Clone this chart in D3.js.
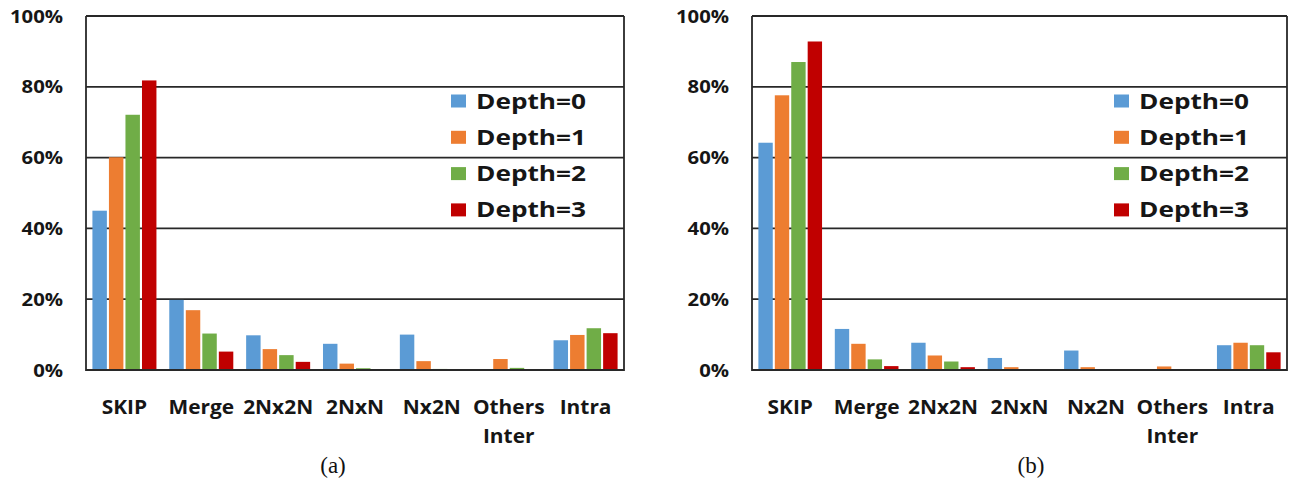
<!DOCTYPE html>
<html>
<head>
<meta charset="utf-8">
<script src="https://cdn.jsdelivr.net/npm/d3@7"></script>
<style>
  html, body { margin: 0; padding: 0; background: #fff; }
  svg { display: block; }
</style>
</head>
<body>
<svg id="chart" width="1290" height="482"></svg>
<script>
// Share of coding modes per CU depth (percent)
const categories = ["SKIP", "Merge", "2Nx2N", "2NxN", "Nx2N", "Others Inter", "Intra"];
const seriesNames = ["Depth=0", "Depth=1", "Depth=2", "Depth=3"];
const yTicks = [0, 20, 40, 60, 80, 100];
const panelLabels = ["(a)", "(b)"];

// Panel (a)
const depth0A = [45.0, 19.8, 9.8, 7.4, 10.0, 0.0, 8.4];
const depth1A = [60.1, 16.9, 5.9, 1.8, 2.5, 3.1, 9.9];
const depth2A = [72.1, 10.3, 4.2, 0.5, 0.3, 0.6, 11.8];
const depth3A = [81.8, 5.2, 2.3, 0.2, 0.1, 0.0, 10.4];

// Panel (b)
const depth0B = [64.2, 11.6, 7.7, 3.4, 5.5, 0.0, 7.0];
const depth1B = [77.6, 7.4, 4.1, 0.8, 0.8, 1.0, 7.7];
const depth2B = [87.0, 3.0, 2.4, 0.2, 0.2, 0.2, 7.0];
const depth3B = [92.8, 1.1, 0.8, 0.2, 0.2, 0.0, 5.0];

const colors = ["#5B9BD5", "#ED7D31", "#70AD47", "#C00000"];

const svg = d3.select("#chart");
const FONT = "'Open Sans', 'Liberation Sans', sans-serif";
const LINE = "#282828";

const y = d3.scaleLinear().domain([0, 100]).range([370, 16]);

// text helper: horizontally widened glyphs
function label(g, txt, x, yPos, opts) {
  return g.append("text")
    .attr("transform", `translate(${x},${yPos}) scale(${opts.sx},1)`)
    .attr("text-anchor", opts.anchor)
    .attr("font-family", opts.family || FONT)
    .attr("font-weight", opts.weight || "bold")
    .attr("font-size", opts.size)
    .attr("fill", opts.fill || "#161616")
    .text(txt);
}

function drawPanel(series, x0, x1, caption, captionX) {
  const g = svg.append("g");
  const x = d3.scaleBand().domain(categories).range([x0, x1])
    .paddingInner(0.167).paddingOuter(0.0835);
  const xs = d3.scaleBand().domain(d3.range(series.length))
    .range([0, x.bandwidth()]).paddingInner(0.125);

  // horizontal gridlines
  g.append("g").selectAll("line").data(yTicks.filter(t => t > 0)).join("line")
    .attr("x1", x0).attr("x2", x1)
    .attr("y1", d => y(d)).attr("y2", d => y(d))
    .attr("stroke", LINE).attr("stroke-width", 1.8);

  // y tick labels
  yTicks.forEach(t => {
    label(g, t + "%", x0 - 23, y(t) + 6.5, { sx: 1.16, anchor: "end", size: 17.5 });
  });

  // bars
  series.forEach((vals, si) => {
    g.append("g").selectAll("rect").data(vals).join("rect")
      .attr("x", (d, i) => x(categories[i]) + xs(si))
      .attr("width", xs.bandwidth())
      .attr("y", d => y(d))
      .attr("height", d => y(0) - y(d))
      .attr("fill", colors[si]);
  });

  // frame: left axis, right border, baseline
  g.append("path")
    .attr("d", `M${x0},${y(100)}V${y(0)}H${x1}V${y(100)}`)
    .attr("fill", "none").attr("stroke", LINE).attr("stroke-width", 1.8);

  // category labels (multi-word names wrap)
  categories.forEach(c => {
    const cx = x(c) + x.bandwidth() / 2;
    c.split(" ").forEach((w, li) => {
      label(g, w, cx, 414 + li * 29, { sx: 1.1, anchor: "middle", size: 19 });
    });
  });

  // legend
  const lx = x1 - 173;
  seriesNames.forEach((name, si) => {
    const cy = 101 + si * 36.3;
    g.append("rect").attr("x", lx).attr("y", cy - 6.5)
      .attr("width", 15).attr("height", 13).attr("fill", colors[si]);
    label(g, name, lx + 25, cy + 7.5, { sx: 1.22, anchor: "start", size: 21.5 });
  });

  // panel caption
  label(g, caption, captionX, 473, {
    sx: 1, anchor: "middle", size: 23, weight: "normal",
    family: "'Liberation Serif', 'Times New Roman', serif", fill: "#111"
  });
}

drawPanel([depth0A, depth1A, depth2A, depth3A], 86, 624, panelLabels[0], 333);
drawPanel([depth0B, depth1B, depth2B, depth3B], 752, 1287, panelLabels[1], 1031);
</script>
</body>
</html>
